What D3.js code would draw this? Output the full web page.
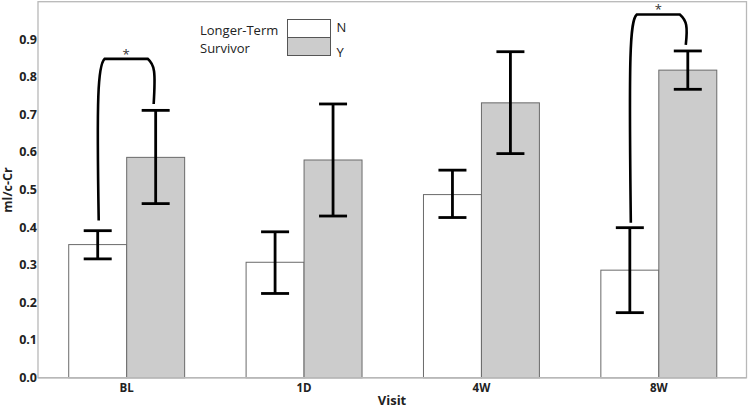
<!DOCTYPE html>
<html><head><meta charset="utf-8">
<script src="https://cdn.jsdelivr.net/npm/d3@7/dist/d3.min.js"></script>
<style>
html,body{margin:0;padding:0;background:#fff;}
svg{display:block;font-family:"Open Sans",sans-serif;}
</style></head>
<body><svg id="c" width="750" height="408"></svg>
<script>
const categories = ["BL","1D","4W","8W"];
const groups = ["N","Y"];
const meanN = [0.354,0.307,0.487,0.286];
const meanY = [0.586,0.579,0.731,0.818];
const lowN  = [0.316,0.224,0.426,0.173];
const highN = [0.391,0.388,0.552,0.399];
const lowY  = [0.463,0.430,0.596,0.767];
const highY = [0.711,0.728,0.867,0.869];
const yTicks = [0,0.1,0.2,0.3,0.4,0.5,0.6,0.7,0.8,0.9];
const sigCats = ["BL","8W"];
const sigTop = [0.848,0.966];
const sigLegN = [0.418,0.412];
const sigLegY = [0.728,0.885];

const svg = d3.select("#c");
const left = 38, right = 747.5;
const x = d3.scaleBand().domain(categories).range([left,right]).paddingInner(0).paddingOuter(0);
const xs = d3.scaleBand().domain(groups).range([0,x.bandwidth()]).paddingInner(0).paddingOuter(0.53);
const y = d3.scaleLinear().domain([0,1]).range([377.7,1.7]);
const fill = {N:"#ffffff",Y:"#cccccc"};

const data = [];
categories.forEach((c,i)=>{
  data.push({c,g:"N",v:meanN[i],lo:lowN[i],hi:highN[i]});
  data.push({c,g:"Y",v:meanY[i],lo:lowY[i],hi:highY[i]});
});

// frame
svg.append("rect").attr("x",left).attr("y",y(1)).attr("width",right-left-1).attr("height",y(0)-y(1))
  .attr("fill","none").attr("stroke","#b8b8b8").attr("stroke-width",1.3);

// bars
svg.append("g").selectAll("rect").data(data).join("rect")
  .attr("x",d=>x(d.c)+xs(d.g)).attr("width",xs.bandwidth())
  .attr("y",d=>y(d.v)).attr("height",d=>y(0)-y(d.v))
  .attr("fill",d=>fill[d.g]).attr("stroke","#6a6a6a").attr("stroke-width",1);

// axis baseline
svg.append("line").attr("x1",left).attr("x2",right-1).attr("y1",y(0)).attr("y2",y(0))
  .attr("stroke","#b8b8b8").attr("stroke-width",1.5);

// error bars
const cx = d=>x(d.c)+xs(d.g)+xs.bandwidth()/2;
const eb = svg.append("g").attr("stroke","#000").attr("stroke-width",2.8).attr("fill","none");
data.forEach(d=>{
  const X = cx(d);
  eb.append("line").attr("x1",X).attr("x2",X).attr("y1",y(d.lo)).attr("y2",y(d.hi));
  eb.append("line").attr("x1",X-14).attr("x2",X+14).attr("y1",y(d.lo)).attr("y2",y(d.lo));
  eb.append("line").attr("x1",X-14).attr("x2",X+14).attr("y1",y(d.hi)).attr("y2",y(d.hi));
});

// significance brackets
sigCats.forEach((c,i)=>{
  const x1 = x(c)+xs("N")+xs.bandwidth()/2+1;
  const x2 = x(c)+xs("Y")+xs.bandwidth()/2-2;
  const yt = y(sigTop[i]);
  const r = 6;
  const p = d3.path();
  p.moveTo(x1, y(sigLegN[i]));
  p.bezierCurveTo(x1-2, yt+40, x1-1, yt+r, x1+r, yt);
  p.lineTo(x2-r, yt);
  p.bezierCurveTo(x2+1, yt+r, x2+2, yt+12, x2, y(sigLegY[i]));
  svg.append("path").attr("d",p.toString()).attr("fill","none").attr("stroke","#000").attr("stroke-width",2.6);
  svg.append("text").attr("x",(x1+x2)/2).attr("y",yt).attr("text-anchor","middle")
    .attr("font-size",13).attr("fill","#333").text("*");
});

// y tick labels
svg.append("g").selectAll("text").data(yTicks).join("text")
  .attr("x",37).attr("y",d=>y(d)).attr("dy","0.35em").attr("text-anchor","end")
  .attr("font-size",12.5).attr("font-weight","bold").attr("fill","#222")
  .text(d=>d3.format(".1f")(d));

// x tick labels
svg.append("g").selectAll("text").data(categories).join("text")
  .attr("x",d=>x(d)+x.bandwidth()/2).attr("y",391.5).attr("text-anchor","middle")
  .attr("font-size",11.5).attr("font-weight","bold").attr("fill","#222").text(d=>d);

// axis titles
svg.append("text").attr("x",392).attr("y",405).attr("text-anchor","middle")
  .attr("font-size",13).attr("font-weight","bold").attr("fill","#222").text("Visit");
svg.append("text").attr("transform","translate(12,190) rotate(-90)").attr("text-anchor","middle")
  .attr("font-size",12.5).attr("font-weight","bold").attr("fill","#222").text("ml/c-Cr");

// legend
const lg = svg.append("g").attr("fill","#222").attr("font-size",13);
lg.append("text").attr("x",200).attr("y",30).attr("dy","0.35em").text("Longer-Term");
lg.append("text").attr("x",200).attr("y",48).attr("dy","0.35em").text("Survivor");
groups.forEach((g,i)=>{
  lg.append("rect").attr("x",287.5).attr("y",19.5+i*18).attr("width",43).attr("height",18)
    .attr("fill",fill[g]).attr("stroke","#555").attr("stroke-width",1);
  lg.append("text").attr("x",336.5).attr("y",27+i*25).attr("dy","0.35em").text(g);
});
</script></body></html>
